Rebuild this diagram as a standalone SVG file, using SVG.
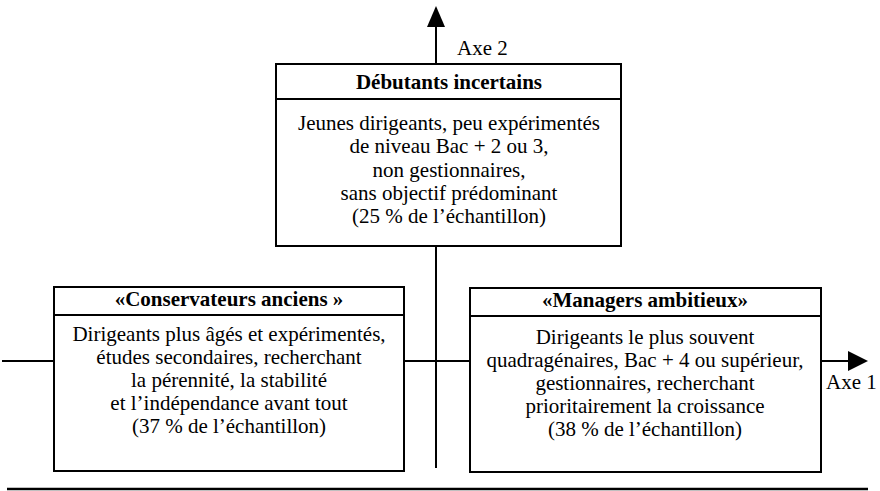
<svg xmlns="http://www.w3.org/2000/svg" width="880" height="491" viewBox="0 0 880 491">
<defs>
<style>
.box{fill:#fff;stroke:#000;stroke-width:2}
.ax{stroke:#000;stroke-width:2;fill:none}
text{font-family:"Liberation Serif","Times New Roman",serif;font-size:21px;fill:#000}
.h{font-weight:bold;text-anchor:middle}
.b{text-anchor:middle}
</style>
</defs>
<g id="connectors">
<line class="ax" x1="436" y1="468" x2="436" y2="8"/>
<path d="M427,27 L436,6 L445,27 Z" fill="#000"/>
<line class="ax" x1="2" y1="361" x2="866" y2="361"/>
<path d="M848,351 L868,361 L848,371 Z" fill="#000"/>
<line x1="7" y1="489" x2="868" y2="489" stroke="#000" stroke-width="2.5"/>
<text x="457" y="55">Axe 2</text>
<text x="826" y="389">Axe 1</text>
</g>
<g id="debutants">
<rect class="box" x="276" y="64" width="345" height="182"/>
<line class="ax" x1="276" y1="99" x2="621" y2="99"/>
<text class="h" x="449" y="89">Débutants incertains</text>
<text class="b" x="449" y="130">Jeunes dirigeants, peu expérimentés</text>
<text class="b" x="449" y="153">de niveau Bac + 2 ou 3,</text>
<text class="b" x="449" y="177">non gestionnaires,</text>
<text class="b" x="449" y="200">sans objectif prédominant</text>
<text class="b" x="449" y="223">(25 % de l’échantillon)</text>
</g>
<g id="conservateurs">
<rect class="box" x="54" y="287" width="350" height="184"/>
<line class="ax" x1="54" y1="315" x2="404" y2="315"/>
<text class="h" x="229" y="306">«Conservateurs anciens »</text>
<text class="b" x="229" y="341">Dirigeants plus âgés et expérimentés,</text>
<text class="b" x="229" y="364">études secondaires, recherchant</text>
<text class="b" x="229" y="387">la pérennité, la stabilité</text>
<text class="b" x="229" y="410">et l’indépendance avant tout</text>
<text class="b" x="229" y="433">(37 % de l’échantillon)</text>
</g>
<g id="managers">
<rect class="box" x="470" y="288" width="351" height="184"/>
<line class="ax" x1="470" y1="316" x2="821" y2="316"/>
<text class="h" x="645" y="307">«Managers ambitieux»</text>
<text class="b" x="645" y="344">Dirigeants le plus souvent</text>
<text class="b" x="645" y="367">quadragénaires, Bac + 4 ou supérieur,</text>
<text class="b" x="645" y="390">gestionnaires, recherchant</text>
<text class="b" x="645" y="413">prioritairement la croissance</text>
<text class="b" x="645" y="436">(38 % de l’échantillon)</text>
</g>
</svg>
